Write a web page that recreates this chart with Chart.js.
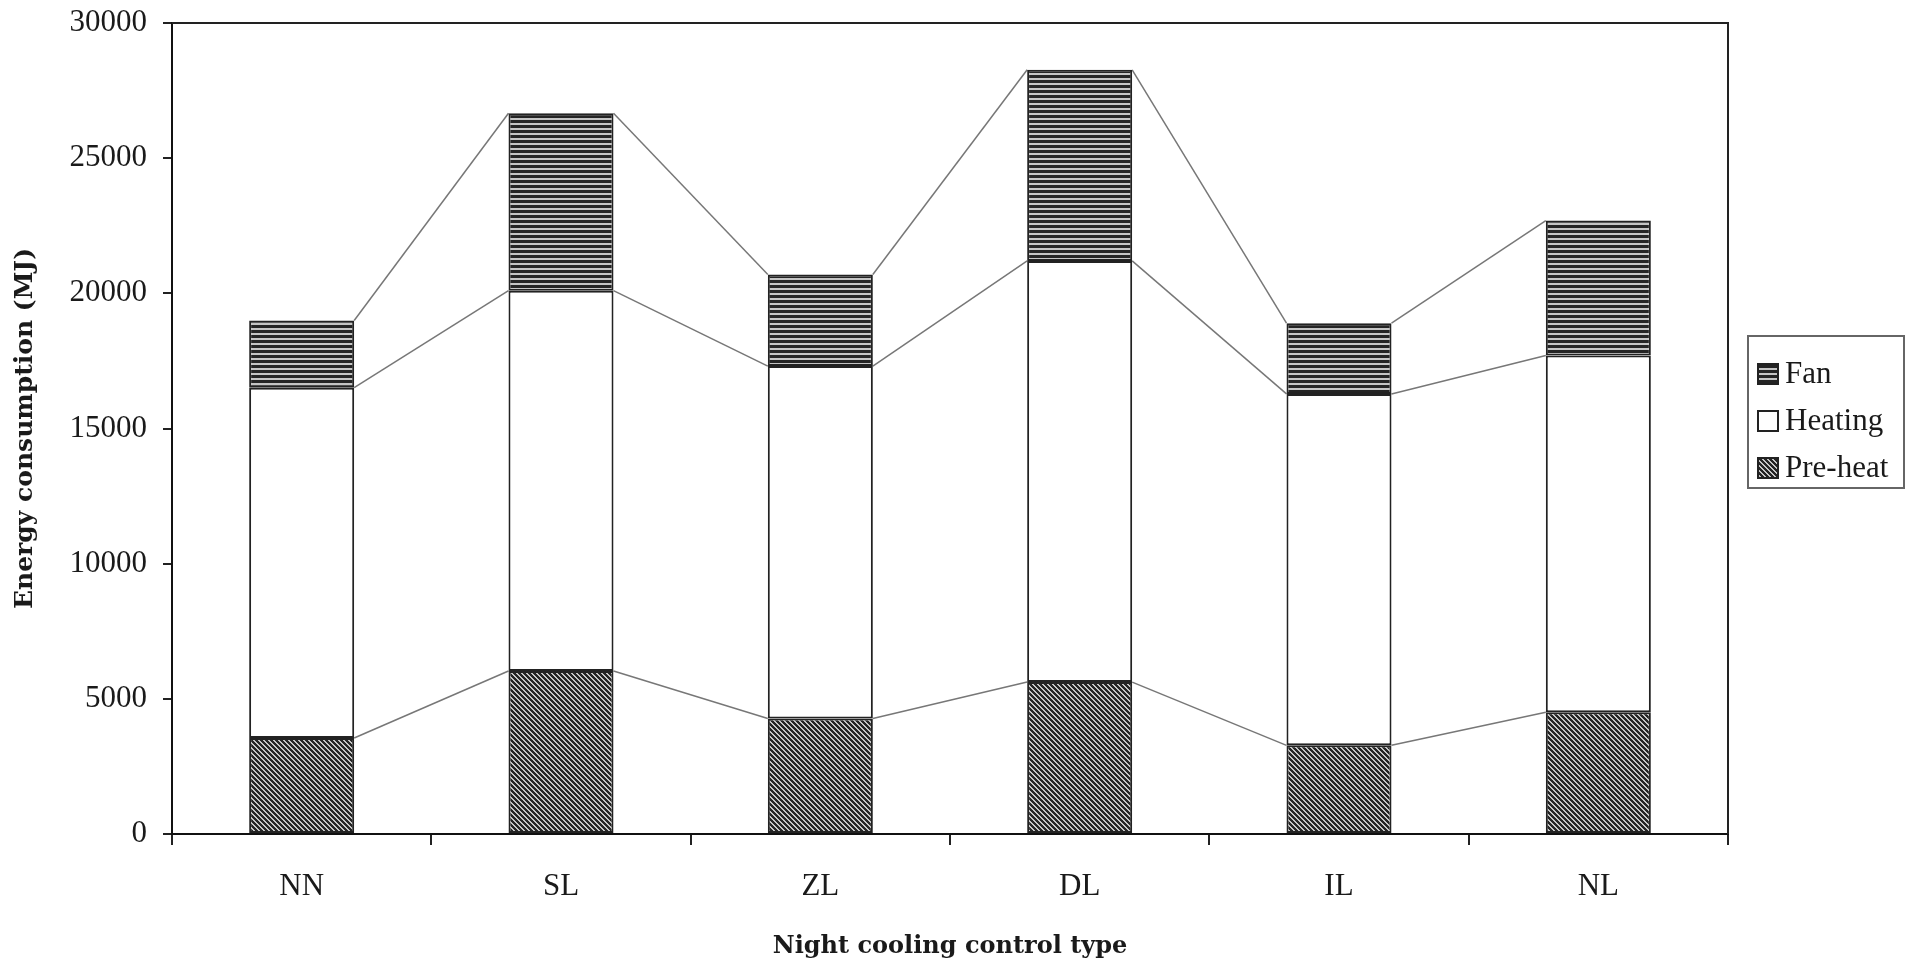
<!DOCTYPE html>
<html>
<head>
<meta charset="utf-8">
<title>Energy consumption by night cooling control type</title>
<script src="https://cdn.jsdelivr.net/npm/chart.js@4.4.1/dist/chart.umd.min.js"></script>
<style>
  html, body { margin: 0; padding: 0; background: #fff; }
</style>
</head>
<body>
<canvas id="energyChart" width="1908" height="969"></canvas>
<script>
// Energy use (MJ) per night cooling control type, stacked bottom to top
const categories = ['NN', 'SL', 'ZL', 'DL', 'IL', 'NL'];
const preHeat = [3550, 6030, 4270, 5620, 3280, 4500];
const heating = [12960, 14070, 13040, 15580, 13000, 13200];
const fan = [2485, 6560, 3385, 7070, 2615, 4990];
const yMin = 0;
const yMax = 30000;
const yStep = 5000;

// small tiles used as fill patterns for the bars
function makePattern(period, isDark) {
    const c = document.createElement('canvas');
    c.width = period;
    c.height = period;
    const g = c.getContext('2d');
    for (let y = 0; y < period; y++) {
        for (let x = 0; x < period; x++) {
            g.fillStyle = isDark(x, y) ? '#242424' : '#c4c4c4';
            g.fillRect(x, y, 1, 1);
        }
    }
    return g.createPattern(c, 'repeat');
}

const ctx = document.getElementById('energyChart').getContext('2d');
const fanFill = makePattern(5, (x, y) => y < 3);
const preHeatFill = makePattern(5, (x, y) => ((x - y + 5) % 5) < 3);

// thin lines joining the top of each segment to the same segment in the next bar
const seriesLines = {
    id: 'seriesLines',
    beforeDatasetsDraw(chart) {
        const c = chart.ctx;
        c.save();
        c.strokeStyle = '#777';
        c.lineWidth = 1.5;
        chart.data.datasets.forEach((ds, di) => {
            const bars = chart.getDatasetMeta(di).data;
            for (let i = 0; i < bars.length - 1; i++) {
                const a = bars[i], b = bars[i + 1];
                c.beginPath();
                c.moveTo(a.x + a.width / 2, a.y);
                c.lineTo(b.x - b.width / 2, b.y);
                c.stroke();
            }
        });
        c.restore();
    }
};

// top and right edges of the plot frame
const plotFrame = {
    id: 'plotFrame',
    afterDatasetsDraw(chart) {
        const { left, top, right, bottom } = chart.chartArea;
        const c = chart.ctx;
        c.save();
        c.strokeStyle = '#222';
        c.lineWidth = 2;
        c.beginPath();
        c.moveTo(left, top);
        c.lineTo(right, top);
        c.lineTo(right, bottom);
        c.stroke();
        c.restore();
    }
};

// boxed legend on the right, top series first
const boxedLegend = {
    id: 'boxedLegend',
    afterDraw(chart) {
        const c = chart.ctx;
        const boxX = 1748, boxY = 336, boxW = 156, boxH = 152;
        c.save();
        c.strokeStyle = '#666';
        c.lineWidth = 2;
        c.strokeRect(boxX, boxY, boxW, boxH);
        const items = chart.data.datasets.slice().reverse();
        items.forEach((ds, i) => {
            const cy = boxY + 38 + i * 47;
            c.fillStyle = ds.backgroundColor;
            c.fillRect(1757, cy - 11, 22, 22);
            c.strokeStyle = '#222';
            c.lineWidth = 2;
            c.strokeRect(1758, cy - 10, 20, 20);
            c.fillStyle = '#1a1a1a';
            c.font = '31px "Liberation Serif"';
            c.textBaseline = 'middle';
            c.textAlign = 'left';
            c.fillText(ds.label, 1785, cy + 1);
        });
        c.restore();
    }
};

const energyChart = new Chart(ctx, {
    type: 'bar',
    data: {
        labels: categories,
        datasets: [
            { label: 'Pre-heat', data: preHeat, backgroundColor: preHeatFill },
            { label: 'Heating', data: heating, backgroundColor: '#ffffff' },
            { label: 'Fan', data: fan, backgroundColor: fanFill }
        ]
    },
    options: {
        responsive: false,
        animation: false,
        devicePixelRatio: 1,
        layout: { padding: { top: 23, right: 180, bottom: 0, left: 0 } },
        datasets: {
            bar: {
                borderColor: '#222',
                borderWidth: 2,
                borderSkipped: false,
                barPercentage: 0.405,
                categoryPercentage: 1
            }
        },
        plugins: {
            legend: { display: false },
            tooltip: { enabled: false }
        },
        scales: {
            x: {
                stacked: true,
                grid: {
                    offset: true,
                    drawOnChartArea: false,
                    tickLength: 11,
                    color: '#222',
                    lineWidth: 2
                },
                border: { color: '#111', width: 2 },
                ticks: {
                    color: '#1a1a1a',
                    padding: 23,
                    font: { family: 'Liberation Serif', size: 31 }
                },
                title: {
                    display: true,
                    text: 'Night cooling control type',
                    color: '#1a1a1a',
                    padding: { top: 0, bottom: 8 },
                    font: { family: 'DejaVu Serif', weight: 'bold', size: 24 }
                },
                afterFit(scale) { scale.height = 135; }
            },
            y: {
                stacked: true,
                min: yMin,
                max: yMax,
                grid: {
                    drawOnChartArea: false,
                    tickLength: 9,
                    color: '#222',
                    lineWidth: 2
                },
                border: { color: '#111', width: 2 },
                ticks: {
                    stepSize: yStep,
                    color: '#1a1a1a',
                    padding: 16,
                    font: { family: 'Liberation Serif', size: 31 },
                    callback: v => String(v)
                },
                title: {
                    display: true,
                    text: 'Energy consumption (MJ)',
                    color: '#1a1a1a',
                    padding: { top: 10, bottom: 0 },
                    font: { family: 'DejaVu Serif', weight: 'bold', size: 25 }
                },
                afterFit(scale) {
                    scale.width = 172;
                    scale.paddingTop = 0;
                    scale.paddingBottom = 0;
                }
            }
        }
    },
    plugins: [seriesLines, plotFrame, boxedLegend]
});
</script>
</body>
</html>
